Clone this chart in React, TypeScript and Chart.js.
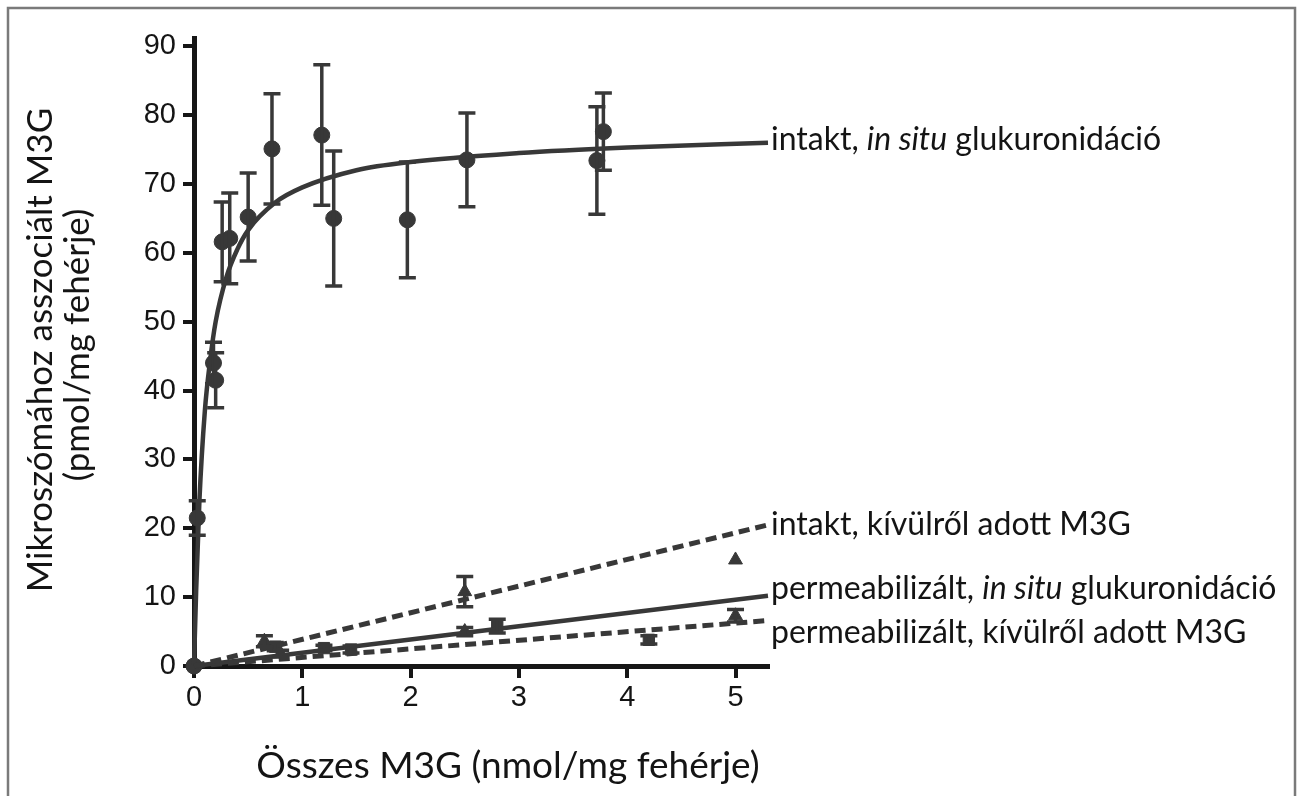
import React, { useEffect, useRef } from "react";
import { Chart, registerables } from "chart.js";

Chart.register(...registerables);

// ---------- data ----------
const xTicks = [0, 1, 2, 3, 4, 5];
const yTicks = [0, 10, 20, 30, 40, 50, 60, 70, 80, 90];

// intakt, in situ glukuronidáció (circles with SD)
const intaktInSituX = [0, 0.03, 0.18, 0.2, 0.26, 0.33, 0.5, 0.72, 1.18, 1.29, 1.97, 2.52, 3.72, 3.78];
const intaktInSituY = [0, 21.5, 44, 41.5, 61.6, 62.1, 65.2, 75.1, 77.1, 65.0, 64.8, 73.5, 73.4, 77.6];
const intaktInSituErr = [0, 2.5, 3, 4, 5.8, 6.6, 6.4, 8, 10.2, 9.8, 8.4, 6.8, 7.8, 5.6];

// fitted saturation curve
const curveX = [0, 0.02, 0.05, 0.1, 0.15, 0.2, 0.3, 0.4, 0.5, 0.75, 1, 1.5, 2, 3, 4, 5.3];
const curveY = [0, 11, 24, 37, 44.5, 50, 56.5, 60.5, 63.3, 67.3, 69.5, 72, 73.2, 74.5, 75.3, 76];

// intakt, kívülről adott M3G (triangles)
const intaktKivX = [0, 0.65, 2.5, 5.0];
const intaktKivY = [0, 3.6, 10.8, 15.4];
const intaktKivErr = [0, 0.8, 2.2, 0];

// permeabilizált, in situ glukuronidáció (squares)
const permInSituX = [0, 0.75, 1.2, 1.45, 2.8, 4.2];
const permInSituY = [0, 2.8, 2.6, 2.4, 5.8, 3.8];
const permInSituErr = [0, 0.6, 0.4, 0.5, 1, 0.6];

// permeabilizált, kívülről adott M3G (triangles)
const permKivX = [0, 0.8, 2.5, 5.0];
const permKivY = [0, 1.8, 5.0, 7.3];
const permKivErr = [0, 0.5, 0.6, 0.9];

// linear fits (start and end)
const lineX = [0, 5.3];
const intaktKivLineY = [0, 20.5];
const permInSituLineY = [0, 10.2];
const permKivLineY = [0, 6.6];

const seriesLabels = [
  [{ t: "intakt, " }, { t: "in situ", i: true }, { t: " glukuronidáció" }],
  [{ t: "intakt, kívülről adott M3G" }],
  [{ t: "permeabilizált, " }, { t: "in situ", i: true }, { t: " glukuronidáció" }],
  [{ t: "permeabilizált, kívülről adott M3G" }],
];
const xTitle = "Összes M3G (nmol/mg fehérje)";
const yTitle = ["Mikroszómához asszociált M3G", "(pmol/mg fehérje)"];

const pts = (xs: number[], ys: number[]) => xs.map((x, i) => ({ x, y: ys[i] }));

const INK = "#383838";
const TEXT = "#141414";
const FONT = "Lato, 'Open Sans', sans-serif";

const errorBarPlugin = {
  id: "errorBars",
  afterDatasetsDraw(chart: any) {
    const { ctx, scales } = chart;
    const xs = scales.x, ys = scales.y;
    ctx.save();
    ctx.strokeStyle = INK;
    ctx.lineWidth = 3.5;
    chart.data.datasets.forEach((ds: any) => {
      if (!ds.errors) return;
      ds.data.forEach((p: any, i: number) => {
        const e = ds.errors[i];
        if (!e) return;
        const px = xs.getPixelForValue(p.x);
        const top = ys.getPixelForValue(p.y + e);
        const bot = ys.getPixelForValue(p.y - e);
        const cw = 8.5;
        ctx.beginPath();
        ctx.moveTo(px, top);
        ctx.lineTo(px, bot);
        ctx.moveTo(px - cw, top);
        ctx.lineTo(px + cw, top);
        ctx.moveTo(px - cw, bot);
        ctx.lineTo(px + cw, bot);
        ctx.stroke();
      });
    });
    ctx.restore();
  },
};

const textPlugin = {
  id: "texts",
  afterDraw(chart: any) {
    const { ctx } = chart;
    ctx.save();
    // frame
    ctx.strokeStyle = "#7a7a7a";
    ctx.lineWidth = 2.5;
    ctx.strokeRect(8, 8, 1287, 800);

    ctx.fillStyle = TEXT;
    // x title
    ctx.font = `37px ${FONT}`;
    ctx.textAlign = "center";
    ctx.textBaseline = "middle";
    ctx.fillText(xTitle, 508, 766);

    // y title
    ctx.font = `35px ${FONT}`;
    ctx.save();
    ctx.translate(41, 350);
    ctx.rotate(-Math.PI / 2);
    ctx.fillText(yTitle[0], 0, 0);
    ctx.restore();
    ctx.save();
    ctx.translate(78, 345);
    ctx.rotate(-Math.PI / 2);
    ctx.fillText(yTitle[1], 0, 0);
    ctx.restore();

    // series labels at the right
    const labelY = [140, 525, 589, 633];
    ctx.textAlign = "left";
    seriesLabels.forEach((segs: any[], k: number) => {
      let x = 771;
      segs.forEach((s) => {
        ctx.font = `${s.i ? "italic " : ""}32px ${FONT}`;
        ctx.fillText(s.t, x, labelY[k]);
        x += ctx.measureText(s.t).width;
      });
    });
    ctx.restore();
  },
};

export default function App() {
  const ref = useRef<HTMLCanvasElement | null>(null);
  useEffect(() => {
    if (!ref.current) return;
    const lineDs = (ys: number[], dashed: boolean) => ({
      data: pts(lineX, ys),
      showLine: true,
      borderColor: INK,
      borderWidth: dashed ? 5 : 4.5,
      borderDash: dashed ? [11, 6] : [],
      pointRadius: 0,
      clip: false,
    });
    const markerDs = (xs: number[], ys: number[], errs: number[], style: string, r: number) => ({
      data: pts(xs, ys),
      errors: errs,
      showLine: false,
      pointStyle: style,
      pointRadius: r,
      backgroundColor: INK,
      borderColor: INK,
      borderWidth: 1,
      clip: false,
    });
    const chart = new Chart(ref.current, {
      type: "scatter",
      data: {
        datasets: [
          lineDs(intaktKivLineY, true),
          lineDs(permInSituLineY, false),
          lineDs(permKivLineY, true),
          {
            data: pts(curveX, curveY),
            showLine: true,
            borderColor: INK,
            borderWidth: 4.5,
            cubicInterpolationMode: "monotone",
            pointRadius: 0,
            clip: false,
          },
          markerDs(intaktInSituX, intaktInSituY, intaktInSituErr, "circle", 8),
          markerDs(intaktKivX, intaktKivY, intaktKivErr, "triangle", 8),
          markerDs(permInSituX, permInSituY, permInSituErr, "rect", 8),
          markerDs(permKivX, permKivY, permKivErr, "triangle", 8),
        ] as any,
      },
      options: {
        responsive: false,
        animation: false,
        layout: { padding: { left: 0, right: 531, top: 38, bottom: 0 } },
        plugins: { legend: { display: false }, tooltip: { enabled: false }, title: { display: false } },
        scales: {
          x: {
            type: "linear",
            min: 0,
            max: 5.3,
            afterFit: (s: any) => { s.height = 130; },
            afterBuildTicks: (s: any) => { s.ticks = xTicks.map((v) => ({ value: v })); },
            ticks: { font: { family: "'Liberation Sans', Arial, sans-serif", size: 29 }, color: TEXT, padding: 3, maxRotation: 0 },
            grid: { display: true, drawOnChartArea: false, drawTicks: true, tickLength: 12, lineWidth: 4, color: "#161616" },
            border: { display: true, width: 5, color: "#161616" },
          },
          y: {
            type: "linear",
            min: 0,
            max: 91.2,
            afterFit: (s: any) => { s.width = 194; },
            afterBuildTicks: (s: any) => { s.ticks = yTicks.map((v) => ({ value: v })); },
            ticks: { font: { family: "'Liberation Sans', Arial, sans-serif", size: 29 }, color: TEXT, padding: 7 },
            grid: { display: true, drawOnChartArea: false, drawTicks: true, tickLength: 11, lineWidth: 4, color: "#161616" },
            border: { display: true, width: 5, color: "#161616" },
          },
        },
      } as any,
      plugins: [errorBarPlugin, textPlugin],
    });
    return () => chart.destroy();
  }, []);
  return (
    <div style={{ position: "fixed", left: 0, top: 0, width: 1299, height: 796, background: "#fff" }}>
      <canvas ref={ref} width={1299} height={796} style={{ display: "block" }} />
    </div>
  );
}
